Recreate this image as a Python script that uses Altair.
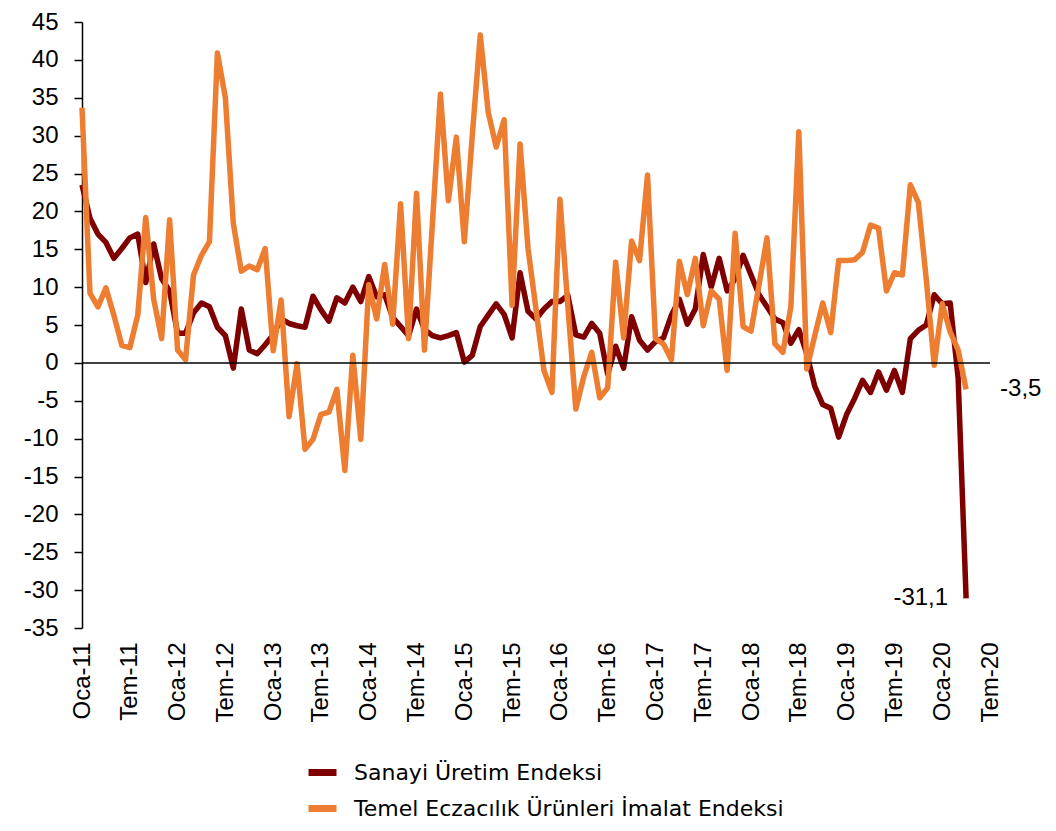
import json
import altair as alt
import pandas as pd

# x tick labels, every 6 months starting Jan 2011 (month index 0)
tick_labels = ["Oca-11", "Tem-11", "Oca-12", "Tem-12", "Oca-13", "Tem-13", "Oca-14", "Tem-14",
               "Oca-15", "Tem-15", "Oca-16", "Tem-16", "Oca-17", "Tem-17", "Oca-18", "Tem-18",
               "Oca-19", "Tem-19", "Oca-20", "Tem-20"]
y_ticks = [-35, -30, -25, -20, -15, -10, -5, 0, 5, 10, 15, 20, 25, 30, 35, 40, 45]

series_names = ["Sanayi Üretim Endeksi", "Temel Eczacılık Ürünleri İmalat Endeksi"]
series_colors = ["#7F0000", "#ED7D31"]

# Monthly values, Jan 2011 .. Apr 2020
sanayi = [
    23.5, 19.1, 17.0, 15.9, 13.8, 15.1, 16.5, 17.0, 10.6, 15.7, 11.1, 9.5,
    3.9, 3.9, 6.6, 7.9, 7.4, 4.7, 3.6, -0.7, 7.1, 1.7, 1.2, 2.4,
    3.7, 5.8, 5.2, 4.9, 4.7, 8.8, 7.0, 5.5, 8.6, 7.9, 10.0, 8.1,
    11.4, 8.7, 9.0, 6.0, 4.8, 3.6, 7.1, 4.4, 3.6, 3.3, 3.6, 4.0,
    0.1, 1.0, 4.8, 6.3, 7.8, 6.4, 3.3, 11.9, 6.8, 5.8, 7.1, 8.1,
    8.1, 8.9, 3.7, 3.4, 5.2, 3.9, -1.5, 2.2, -0.7, 6.1, 3.0, 1.7,
    2.8, 3.3, 6.3, 8.4, 5.1, 7.1, 14.3, 10.0, 13.8, 9.5, 11.1, 14.2,
    11.6, 9.0, 7.4, 5.8, 5.3, 2.6, 4.4, 1.2, -3.1, -5.5, -6.0, -9.8,
    -6.8, -4.7, -2.3, -3.9, -1.2, -3.6, -1.0, -3.9, 3.2, 4.3, 5.0, 9.0,
    7.8, 7.9, -2.0, -31.1,
]
eczacilik = [
    33.7, 9.2, 7.4, 9.9, 6.3, 2.3, 2.0, 6.3, 19.2, 8.4, 3.2, 18.9,
    1.7, 0.4, 11.6, 14.2, 16.0, 40.9, 35.0, 18.4, 12.1, 12.8, 12.3, 15.1,
    1.6, 8.3, -7.1, -0.1, -11.4, -10.1, -6.8, -6.5, -3.5, -14.2, 1.0, -10.1,
    10.3, 5.8, 13.0, 5.1, 21.0, 3.2, 22.4, 1.7, 18.5, 35.5, 21.4, 29.8,
    16.0, 30.0, 43.3, 33.1, 28.5, 32.1, 7.6, 28.9, 15.1, 7.1, -1.0, -3.9,
    21.6, 7.5, -6.1, -1.8, 1.4, -4.6, -3.3, 13.3, 3.3, 16.1, 13.5, 24.8,
    3.2, 2.5, 0.4, 13.4, 9.0, 13.8, 4.9, 9.5, 8.4, -1.0, 17.1, 4.8,
    4.2, 10.3, 16.5, 2.5, 1.4, 7.4, 30.5, -0.8, 3.6, 7.9, 4.0, 13.5,
    13.5, 13.6, 14.6, 18.2, 17.8, 9.5, 11.9, 11.6, 23.5, 21.2, 11.0, -0.3,
    7.8, 4.1, 1.7, -3.5,
]

rows = []
for name, vals in zip(series_names, [sanayi, eczacilik]):
    for i, v in enumerate(vals):
        rows.append({"m": i, "v": v, "series": name})
df = pd.DataFrame(rows)

last = pd.DataFrame([
    {"m": len(sanayi) - 1, "v": sanayi[-1], "txt": f"{sanayi[-1]:.1f}".replace(".", ","), "series": series_names[0]},
    {"m": len(eczacilik) - 1, "v": eczacilik[-1], "txt": f"{eczacilik[-1]:.1f}".replace(".", ","), "series": series_names[1]},
])

label_expr = json.dumps(tick_labels) + "[round(datum.value / 6)]"

x_scale = alt.Scale(domain=[0, 114], nice=False, zero=False)
y_scale = alt.Scale(domain=[-35, 45], nice=False, zero=False)

x_axis = alt.Axis(values=list(range(0, 115, 6)), labelExpr=label_expr, labelAngle=-90,
                  labelAlign="right", labelBaseline="middle", domain=False, ticks=False,
                  grid=False, title=None, labelFont="Liberation Sans", labelFontSize=24,
                  labelColor="black", labelPadding=14, labelOverlap=False)
y_axis = alt.Axis(values=y_ticks, grid=False, title=None,
                  labelExpr="'' + datum.value", labelOverlap=False, labelBound=False,
                  labelFlush=False,
                  domainColor="black", domainWidth=1.5, tickColor="black", tickWidth=1.5,
                  tickSize=8, labelFont="Liberation Sans", labelFontSize=24, labelColor="black",
                  labelPadding=16)

X = alt.X("m:Q", scale=x_scale, axis=x_axis, title=None)
Y = alt.Y("v:Q", scale=y_scale, axis=y_axis, title=None)

lines = alt.Chart(df).mark_line(strokeWidth=5.5, strokeJoin="round").encode(
    x=X,
    y=Y,
    color=alt.Color("series:N", scale=alt.Scale(domain=series_names, range=series_colors),
                    legend=alt.Legend(orient="none", legendX=223, legendY=733, title=None,
                                      symbolType="stroke", symbolStrokeWidth=7, symbolSize=784,
                                      labelFont="DejaVu Sans", labelFontSize=22, labelColor="black",
                                      labelLimit=900, rowPadding=4, labelOffset=14)),
    order="m:Q",
)

zero = alt.Chart(pd.DataFrame({"m": [0], "m2": [114], "v": [0]})).mark_rule(
    color="black", strokeWidth=1.5
).encode(x=X, x2="m2:Q", y=Y)

txt_sanayi = alt.Chart(last[last.series == series_names[0]]).mark_text(
    align="right", baseline="middle", dx=-18, fontSize=24, font="Liberation Sans", color="black"
).encode(x=X, y=Y, text="txt:N")

txt_ecz = alt.Chart(last[last.series == series_names[1]]).mark_text(
    align="left", baseline="middle", dx=34, fontSize=24, font="Liberation Sans", color="black"
).encode(x=X, y=Y, text="txt:N")

chart = alt.layer(lines, zero, txt_sanayi, txt_ecz).properties(
    width=908, height=606,
    background="white",
    autosize=alt.AutoSizeParams(type="none"),
    padding={"left": 74, "top": 14, "right": 58, "bottom": 195},
).configure_view(stroke=None).configure_axisY(labelOverlap=False)

chart.save("out.html", embed_options={"renderer": "svg", "actions": False})
